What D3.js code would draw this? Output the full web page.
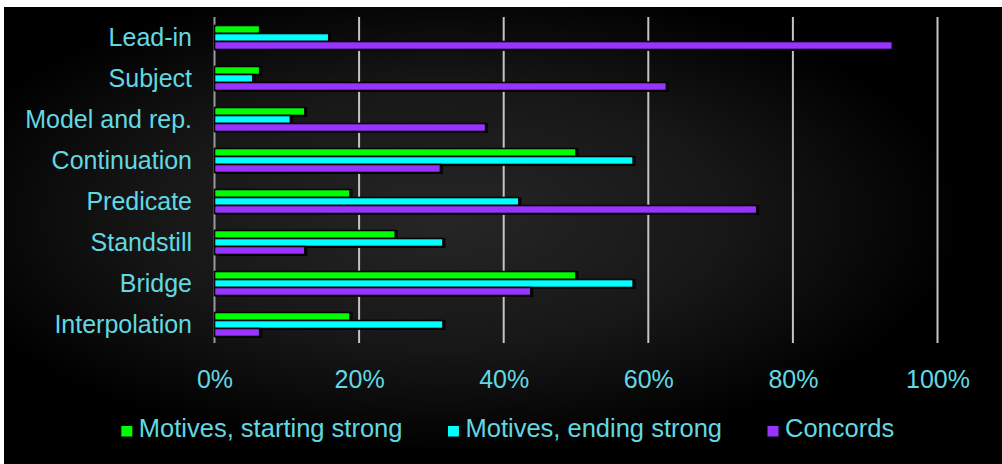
<!DOCTYPE html>
<html>
<head>
<meta charset="utf-8">
<script src="https://cdn.jsdelivr.net/npm/d3@7"></script>
<style>
  html, body { margin: 0; padding: 0; background: #fff; }
  svg { display: block; }
  text { font-family: "Liberation Sans", Arial, sans-serif; fill: #62d8e2; }
</style>
</head>
<body>
<svg id="chart" width="1002" height="464"></svg>
<script>
// Categories (top to bottom) and the share of each in percent
const categories = ["Lead-in", "Subject", "Model and rep.", "Continuation", "Predicate", "Standstill", "Bridge", "Interpolation"];
const seriesNames = ["Motives, starting strong", "Motives, ending strong", "Concords"];
const startingStrong = [6.25, 6.25, 12.5, 50, 18.75, 25, 50, 18.75];
const endingStrong = [15.8, 5.3, 10.5, 57.9, 42.1, 31.6, 57.9, 31.6];
const concords = [93.75, 62.5, 37.5, 31.25, 75, 12.5, 43.75, 6.25];
const tickValues = [0, 20, 40, 60, 80, 100];
const tickLabels = ["0%", "20%", "40%", "60%", "80%", "100%"];

const seriesValues = [startingStrong, endingStrong, concords];
const colors = ["#00ff00", "#00ffff", "#9933ff"];

const svg = d3.select("#chart");
const W = 1002, H = 464;

// Panel background: dark radial glow fading to black
const defs = svg.append("defs");
const grad = defs.append("radialGradient")
  .attr("id", "bg").attr("cx", "44%").attr("cy", "46%").attr("r", "52%");
grad.append("stop").attr("offset", "0%").attr("stop-color", "#262626");
grad.append("stop").attr("offset", "55%").attr("stop-color", "#171717");
grad.append("stop").attr("offset", "100%").attr("stop-color", "#000000");

svg.append("rect").attr("width", W).attr("height", H).attr("fill", "#ffffff");
svg.append("rect").attr("x", 4).attr("y", 7).attr("width", W - 4).attr("height", H - 7).attr("fill", "url(#bg)");

const plot = { left: 214.5, right: 937.5, top: 17, bottom: 345 };

const x = d3.scaleLinear().domain([0, 100]).range([plot.left, plot.right]);
const y0 = d3.scaleBand().domain(categories).range([plot.top, plot.bottom]).padding(0);
const y1 = d3.scaleBand().domain(seriesNames).range([8.5, 32.5]).padding(0);

// Vertical gridlines
const grid = svg.append("g");
grid.selectAll("line.grid")
  .data(tickValues.slice(1))
  .join("line")
  .attr("x1", d => x(d)).attr("x2", d => x(d))
  .attr("y1", plot.top).attr("y2", plot.bottom - 2)
  .attr("stroke", "#c4c4c4").attr("stroke-width", 2);

// Category axis line at 0%
svg.append("line")
  .attr("x1", x(0)).attr("x2", x(0))
  .attr("y1", plot.top).attr("y2", plot.bottom - 2)
  .attr("stroke", "#9a9a9a").attr("stroke-width", 2);

// Bars, each with a soft dark shadow
const groups = svg.append("g").selectAll("g")
  .data(categories)
  .join("g")
  .attr("transform", d => `translate(0,${y0(d)})`);

const barData = (c, i) => seriesNames.map((s, j) => ({ s, j, v: seriesValues[j][i] }));

groups.selectAll("rect.shadow")
  .data(barData)
  .join("rect")
  .attr("class", "shadow")
  .attr("x", x(0) + 1)
  .attr("y", d => y1(d.s) - 0.5)
  .attr("width", d => x(d.v) - x(0) + 1.5)
  .attr("height", y1.bandwidth() + 2)
  .attr("fill", "#000")
  .attr("opacity", 0.85);

groups.selectAll("rect.bar")
  .data(barData)
  .join("rect")
  .attr("class", "bar")
  .attr("x", x(0))
  .attr("y", d => y1(d.s))
  .attr("width", d => x(d.v) - x(0))
  .attr("height", y1.bandwidth())
  .attr("fill", d => colors[d.j])
  .attr("stroke", "#050505")
  .attr("stroke-width", 1.6);

// Category labels
svg.append("g").selectAll("text")
  .data(categories)
  .join("text")
  .attr("x", 192)
  .attr("y", d => y0(d) + y0.bandwidth() / 2 + 8.5)
  .attr("text-anchor", "end")
  .attr("font-size", 25)
  .text(d => d);

// Value axis labels
const xAxis = d3.axisBottom(x)
  .tickValues(tickValues)
  .tickFormat((d, i) => tickLabels[i])
  .tickSize(0)
  .tickPadding(0);
const ax = svg.append("g").attr("transform", `translate(0,388)`).call(xAxis);
ax.select(".domain").remove();
ax.selectAll("text")
  .attr("dy", 0)
  .attr("y", 0)
  .attr("font-size", 25)
  .attr("font-family", "\"Liberation Sans\", Arial, sans-serif")
  .attr("fill", "#62d8e2");

// Legend
const legend = svg.append("g");
const items = legend.selectAll("g")
  .data(seriesNames)
  .join("g");
items.append("rect")
  .attr("x", 0).attr("y", 425.5)
  .attr("width", 12).attr("height", 11.5)
  .attr("fill", (d, i) => colors[i])
  .attr("stroke", "#050505").attr("stroke-width", 1);
items.append("text")
  .attr("x", 18).attr("y", 437)
  .attr("font-size", 25.5)
  .text(d => d);
let cursor = 0;
const positions = [];
items.each(function () {
  const w = d3.select(this).select("text").node().getComputedTextLength();
  positions.push(cursor);
  cursor += 18 + w + 45;
});
const total = cursor - 45;
const startX = 507.5 - total / 2;
items.attr("transform", (d, i) => `translate(${startX + positions[i]},0)`);
</script>
</body>
</html>
